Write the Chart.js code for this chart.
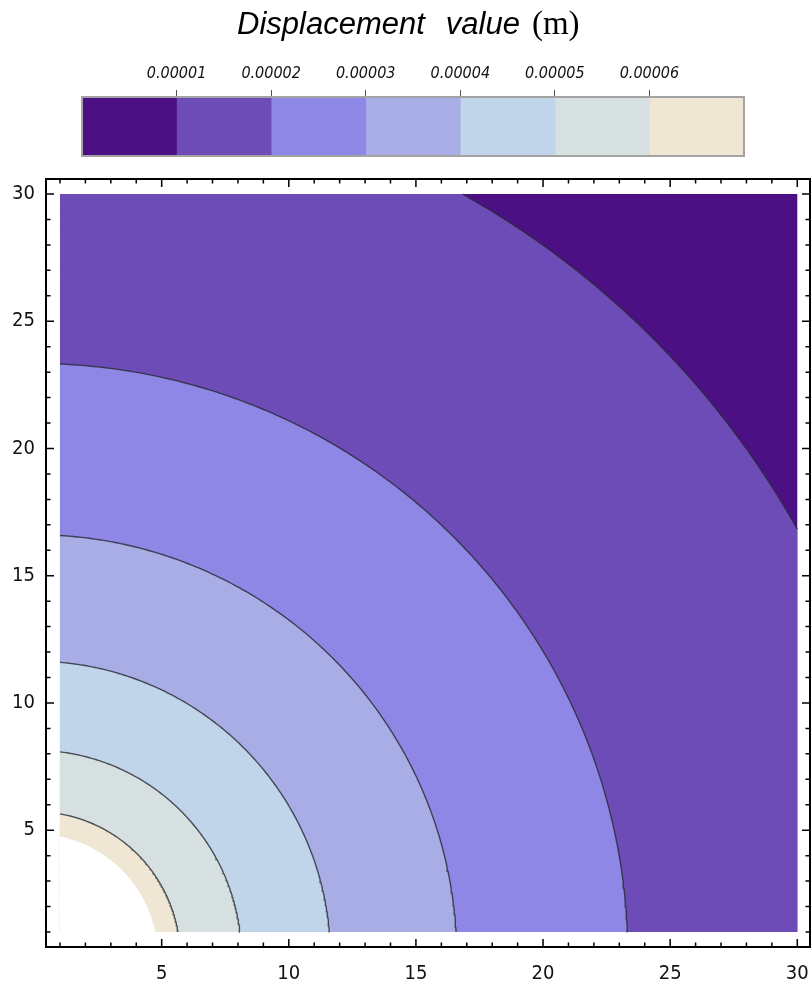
<!DOCTYPE html>
<html>
<head>
<meta charset="utf-8">
<script src="https://cdn.jsdelivr.net/npm/chart.js@4.4.1/dist/chart.umd.min.js"></script>
<style>
  body { margin: 0; background: #fff; width: 811px; height: 985px; overflow: hidden; position: relative; }
  #title { position: absolute; left: 237px; top: 8px; white-space: nowrap; line-height: 31px; color: #000; }
  #title .sans { font-family: "Liberation Sans", Arial, sans-serif; font-style: italic; font-size: 31px; }
  #title .serif { font-family: "Liberation Serif", "Times New Roman", serif; font-size: 33px; margin-left: 12px; }
  .box { position: absolute; left: 0; top: 0; }
</style>
</head>
<body>
<div class="box"><canvas id="contourPlot" width="811" height="985"></canvas></div>
<div class="box"><canvas id="colorBar" width="811" height="170"></canvas></div>
<div id="title"><span class="sans">Displacement</span><span class="sans" style="margin-left:21px">value</span><span class="serif">(m)</span></div>

<script>
// plotted domain
const xRange = [1, 30];
const yRange = [1, 30];

// contour levels (m) and the radius around the origin where each one runs
const contourLevels = [0.00001, 0.00002, 0.00003, 0.00004, 0.00005, 0.00006];
const contourRadii = [34.4, 23.34, 16.61, 11.64, 8.14, 5.73];
const holeRadius = 4.86; // above 0.00007: left blank
const barMax = 0.00007;

// band colours, lowest value first
const bandColors = ['#4b1084', '#6e4cb8', '#8f87e5', '#a8ade6', '#c0d5ea', '#d6e0e0', '#efe6d3'];

// tick labels
const axisTicks = [5, 10, 15, 20, 25, 30];
const minorTicks = [1, 2, 3, 4, 5, 6, 7, 8, 9, 10, 11, 12, 13, 14, 15,
                    16, 17, 18, 19, 20, 21, 22, 23, 24, 25, 26, 27, 28, 29, 30];

const tickFont = { family: "'DejaVu Sans Condensed', 'DejaVu Sans', sans-serif", size: 20 };

// quarter circle of radius r cut to the plotted square
function arcPoints(r) {
  const lo = xRange[0], hi = xRange[1];
  const a0 = Math.max(Math.asin(lo / r), Math.acos(Math.min(1, hi / r)));
  const a1 = Math.min(Math.acos(lo / r), Math.asin(Math.min(1, hi / r)));
  const pts = [];
  const n = 140;
  for (let i = 0; i <= n; i++) {
    const a = a0 + (a1 - a0) * i / n;
    pts.push({ x: r * Math.cos(a), y: r * Math.sin(a) });
  }
  return pts;
}

// filled region inside radius r
function bandShape(r) {
  const arc = arcPoints(r);
  const lo = xRange[0], hi = xRange[1];
  return [{ x: lo, y: lo }, { x: Math.min(hi, arc[0].x), y: lo }, ...arc,
          { x: lo, y: Math.min(hi, arc[arc.length - 1].y) }, { x: lo, y: lo }];
}

const square = [
  { x: xRange[0], y: yRange[0] }, { x: xRange[1], y: yRange[0] },
  { x: xRange[1], y: yRange[1] }, { x: xRange[0], y: yRange[1] }, { x: xRange[0], y: yRange[0] }
];

const shapes = [{ data: square, color: bandColors[0] }];
contourRadii.forEach((r, i) => shapes.push({ data: bandShape(r), color: bandColors[i + 1] }));
shapes.push({ data: bandShape(holeRadius), color: '#ffffff' });

const datasets = shapes.map((s, i) => ({
  data: s.data,
  showLine: true,
  fill: 'shape',
  backgroundColor: s.color,
  borderColor: 'rgba(0,0,0,0)',
  borderWidth: 0,
  pointRadius: 0,
  order: 100 - i
}));

// contour lines
contourRadii.forEach(r => {
  datasets.push({
    data: arcPoints(r),
    showLine: true,
    fill: false,
    borderColor: 'rgba(40,40,50,0.8)',
    borderWidth: 1.4,
    pointRadius: 0,
    order: 0
  });
});

// frame with inward ticks on all four sides
const framePlugin = {
  id: 'frame',
  afterDraw(chart) {
    const { ctx, chartArea: a, scales: { x, y } } = chart;
    ctx.save();
    ctx.strokeStyle = '#000';
    ctx.lineWidth = 1.5;
    ctx.beginPath();
    minorTicks.forEach(v => {
      const len = v % 5 === 0 ? 8 : 4.5;
      const px = x.getPixelForValue(v);
      const py = y.getPixelForValue(v);
      ctx.moveTo(px, a.bottom); ctx.lineTo(px, a.bottom - len);
      ctx.moveTo(px, a.top); ctx.lineTo(px, a.top + len);
      ctx.moveTo(a.left, py); ctx.lineTo(a.left + len, py);
      ctx.moveTo(a.right, py); ctx.lineTo(a.right - len, py);
    });
    ctx.stroke();
    ctx.lineWidth = 2;
    ctx.strokeRect(a.left, a.top, a.right - a.left, a.bottom - a.top);
    ctx.restore();
  }
};

function noPad(s) {
  s.paddingLeft = 0; s.paddingRight = 0; s.paddingTop = 0; s.paddingBottom = 0;
}

new Chart(document.getElementById('contourPlot'), {
  type: 'scatter',
  data: { datasets: datasets },
  options: {
    responsive: false,
    animation: false,
    events: [],
    layout: { padding: { top: 179, right: 1, left: 0, bottom: 0 } },
    plugins: { legend: { display: false }, tooltip: { enabled: false } },
    scales: {
      x: {
        type: 'linear', min: 0.45, max: 30.5,
        grid: { display: false, drawTicks: false }, border: { display: false },
        afterBuildTicks: s => { s.ticks = axisTicks.map(v => ({ value: v })); },
        afterFit: s => { s.height = 38; noPad(s); },
        ticks: { font: tickFont, color: '#111', padding: 15, maxRotation: 0 }
      },
      y: {
        type: 'linear', min: 0.41, max: 30.59,
        grid: { display: false, drawTicks: false }, border: { display: false },
        afterBuildTicks: s => { s.ticks = axisTicks.map(v => ({ value: v })); },
        afterFit: s => { s.width = 46; noPad(s); },
        ticks: { font: tickFont, color: '#111', padding: 11 }
      }
    }
  },
  plugins: [framePlugin]
});

// colour bar legend
const barEdges = [0, ...contourLevels, barMax];
const barSets = bandColors.map((c, i) => ({
  data: [[barEdges[i], barEdges[i + 1]]],
  backgroundColor: c,
  borderWidth: 0,
  grouped: false,
  barPercentage: 1,
  categoryPercentage: 1
}));

const barFrame = {
  id: 'barFrame',
  afterDraw(chart) {
    const { ctx, chartArea: a } = chart;
    ctx.save();
    ctx.strokeStyle = '#a3a3a3';
    ctx.lineWidth = 2;
    ctx.strokeRect(a.left, a.top, a.right - a.left, a.bottom - a.top);
    ctx.restore();
  }
};

new Chart(document.getElementById('colorBar'), {
  type: 'bar',
  data: { labels: [''], datasets: barSets },
  options: {
    indexAxis: 'y',
    responsive: false,
    animation: false,
    events: [],
    layout: { padding: { top: 0, left: 82, right: 67, bottom: 14 } },
    plugins: { legend: { display: false }, tooltip: { enabled: false } },
    scales: {
      x: {
        type: 'linear', position: 'top', min: 0, max: barMax,
        grid: { drawOnChartArea: false, drawTicks: true, tickLength: 7, color: '#555' },
        border: { display: false },
        afterBuildTicks: s => { s.ticks = contourLevels.map(v => ({ value: v })); },
        afterFit: s => { s.height = 97; noPad(s); },
        ticks: {
          font: { family: "'DejaVu Sans Condensed', 'DejaVu Sans', sans-serif", size: 16, style: 'italic' },
          color: '#111', padding: 7, maxRotation: 0,
          callback: v => v.toFixed(5)
        }
      },
      y: { display: false }
    }
  },
  plugins: [barFrame]
});
</script>
</body>
</html>
